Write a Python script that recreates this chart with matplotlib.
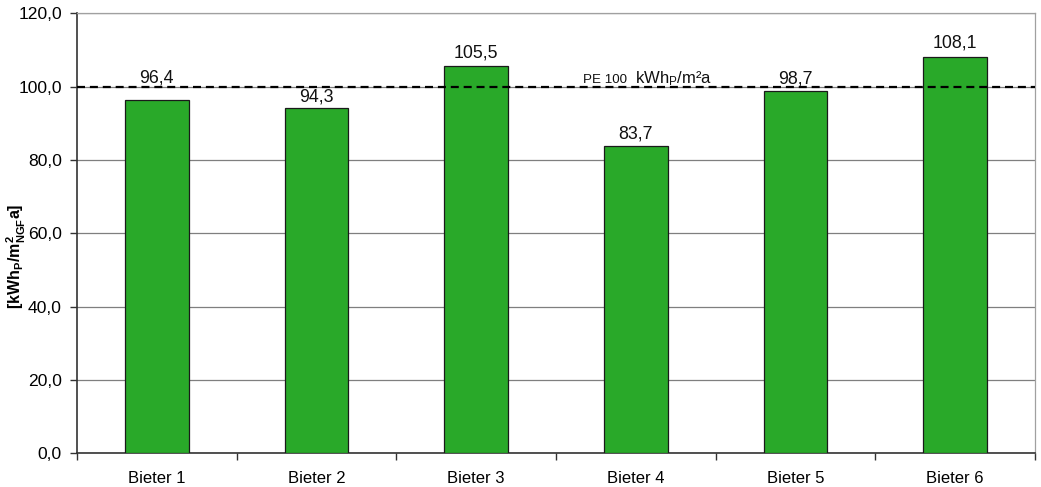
import matplotlib
matplotlib.use("Agg")
import matplotlib.pyplot as plt
import numpy as np

plt.rcParams['font.family'] = ['Liberation Sans', 'DejaVu Sans']
plt.rcParams['mathtext.fontset'] = 'custom'
plt.rcParams['mathtext.rm'] = 'Liberation Sans'
plt.rcParams['mathtext.it'] = 'Liberation Sans'
plt.rcParams['mathtext.bf'] = 'Liberation Sans:bold'
plt.rcParams['mathtext.default'] = 'regular'

# Data
bidders = ["Bieter 1", "Bieter 2", "Bieter 3", "Bieter 4", "Bieter 5", "Bieter 6"]
values = [96.4, 94.3, 105.5, 83.7, 98.7, 108.1]
value_labels = ["96,4", "94,3", "105,5", "83,7", "98,7", "108,1"]
label_offsets_pt = [12.2, 4.3, 6.2, 5.8, 5.8, 6.5]
y_ticks = [0, 20, 40, 60, 80, 100, 120]
y_tick_labels = ["0,0", "20,0", "40,0", "60,0", "80,0", "100,0", "120,0"]
pe_limit = 100

fig = plt.figure(figsize=(10.41, 4.87), dpi=100)
ax = fig.add_axes([0.074, 0.0692, 0.9202, 0.9035])

x = np.arange(len(bidders))
ax.bar(x, values, width=0.4, color="#29a929", edgecolor="#1a1a1a",
       linewidth=0.9, zorder=3)

for xi, v, lab, off in zip(x, values, value_labels, label_offsets_pt):
    ax.annotate(lab, (xi, v), xytext=(0, off), textcoords="offset points",
                ha="center", va="baseline", fontsize=12.8, color="#111111",
                zorder=5)

# Reference line
ax.axhline(pe_limit, color="black", linewidth=1.6, dashes=(3.6, 2.2), zorder=4)
ax.annotate("PE 100", (2.668, pe_limit), xytext=(0, 2.5),
            textcoords="offset points", ha="left", va="baseline",
            fontsize=9.6, color="#111111")
ax.annotate(r"kWh$_{\mathregular{P}}$/m²a", (2.994, pe_limit), xytext=(0, 2.5),
            textcoords="offset points", ha="left", va="baseline",
            fontsize=12, color="#111111")

ax.set_xlim(-0.5, len(bidders) - 0.5)
ax.set_ylim(0, 120)
ax.set_yticks(y_ticks)
ax.set_yticklabels(y_tick_labels, fontsize=12.6)
ax.set_xticks(x)
ax.set_xticklabels(bidders, fontsize=12)
ax.set_xticks(np.arange(-0.5, len(bidders)), minor=True)
ax.tick_params(axis="x", which="major", length=0, pad=13)
ax.tick_params(axis="x", which="minor", length=5, width=1, color="#333333",
               direction="out")
ax.tick_params(axis="y", length=5, width=1, color="#333333", direction="out",
               pad=6)

ax.yaxis.grid(True, color="#7f7f7f", linewidth=0.9, zorder=0)
ax.set_axisbelow(True)

for side in ("left", "bottom"):
    ax.spines[side].set_color("#333333")
    ax.spines[side].set_linewidth(1.2)
for side in ("top", "right"):
    ax.spines[side].set_color("#a0a0a0")
    ax.spines[side].set_linewidth(0.9)

ax.set_ylabel(r"[$\mathbf{kWh_{P}/m^{2}_{NGF}a}$]", fontsize=11.5,
              fontweight="bold")
ax.yaxis.set_label_coords(-0.051, 0.448)

fig.savefig("out.png", dpi=100)
